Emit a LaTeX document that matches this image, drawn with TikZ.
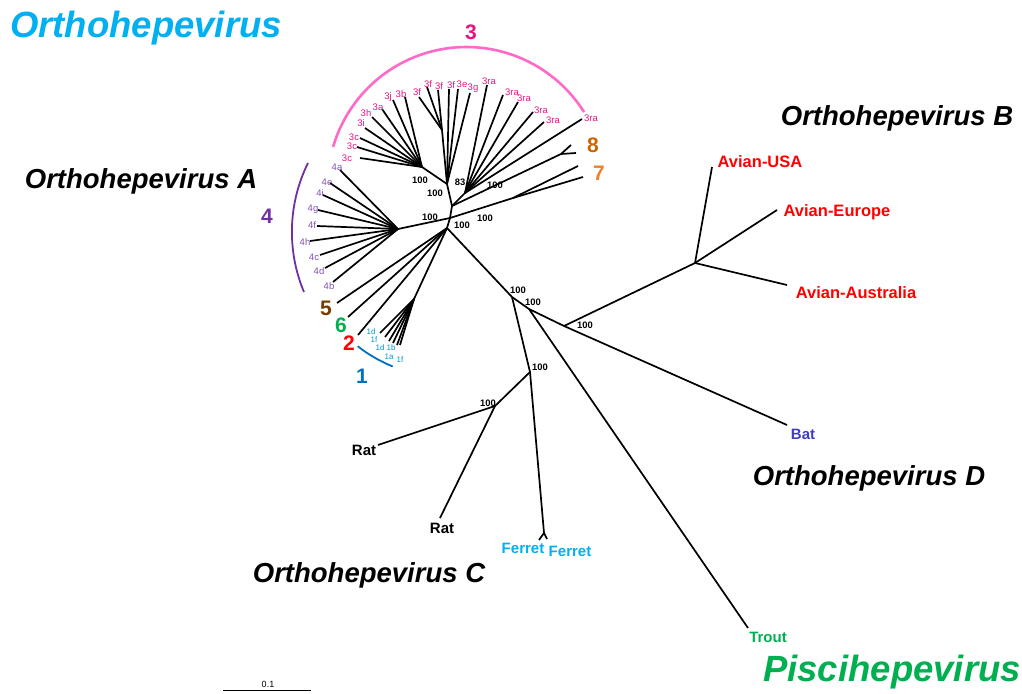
\documentclass[tikz,border=0pt]{standalone}
\usepackage{fontspec}
\setmainfont{Liberation Sans}
\definecolor{tcyan}{RGB}{0,176,240}
\definecolor{pk}{RGB}{230,20,130}
\definecolor{pkarc}{RGB}{255,105,200}
\definecolor{pu}{RGB}{112,48,160}
\definecolor{pul}{RGB}{128,80,180}
\definecolor{bl}{RGB}{0,112,192}
\definecolor{bll}{RGB}{0,150,210}
\definecolor{gr}{RGB}{0,176,80}
\definecolor{brn}{RGB}{120,60,0}
\definecolor{oreight}{RGB}{204,102,0}
\definecolor{orseven}{RGB}{240,128,40}
\definecolor{batc}{RGB}{60,60,200}
\definecolor{avred}{RGB}{255,0,0}
\begin{document}
\begin{tikzpicture}[x=1pt,y=-1pt,
  br/.style={line width=1.7pt},
  bs/.style={font=\fontsize{9.4}{10}\selectfont\bfseries, inner sep=0pt},
  lf/.style={font=\fontsize{9.5}{10}\selectfont, inner sep=0pt},
  lfs/.style={font=\fontsize{8}{9}\selectfont, inner sep=0pt},
  big/.style={font=\fontsize{27.5}{30}\selectfont\bfseries\itshape, inner sep=0pt},
  huge/.style={font=\fontsize{36.5}{40}\selectfont\bfseries\itshape, inner sep=0pt},
  gnum/.style={font=\fontsize{21}{24}\selectfont\bfseries, inner sep=0pt},
  tx/.style={font=\fontsize{15}{17}\selectfont\bfseries, inner sep=0pt},
  av/.style={font=\fontsize{16.5}{18}\selectfont\bfseries, inner sep=0pt, text=avred}]
\useasboundingbox (0,0) rectangle (1022,693);
% internal nodes
\coordinate (C0) at (450,218);
\coordinate (C1) at (452,206);
\coordinate (A3) at (447,184);
\coordinate (N3a) at (422,167);
\coordinate (N3f) at (442,130);
\coordinate (R3) at (465,193);
\coordinate (N8) at (561,154);
\coordinate (N7) at (513,198);
\coordinate (N4) at (398,229);
\coordinate (C2) at (447,228);
\coordinate (N1) at (414,299);
\coordinate (D1) at (512,297);
\coordinate (D2) at (529,309);
\coordinate (D3) at (564,326);
\coordinate (AV) at (695,263);
\coordinate (F) at (530,372);
\coordinate (RT) at (495,406);
\coordinate (FE) at (544,533);
% internal edges
\draw[br] (C0) -- (C1);
\draw[br] (C1) -- (A3);
\draw[br] (A3) -- (N3a);
\draw[br] (A3) -- (N3f);
\draw[br] (C1) -- (R3);
\draw[br] (C1) -- (N8);
\draw[br] (C0) -- (N7);
\draw[br] (C0) -- (N4);
\draw[br] (C0) -- (C2);
\draw[br] (C2) -- (N1);
\draw[br] (C2) -- (D1);
\draw[br] (D1) -- (D2);
\draw[br] (D1) -- (F);
\draw[br] (D2) -- (D3);
\draw[br] (D3) -- (AV);
\draw[br] (F) -- (RT);
\draw[br] (F) -- (FE);
% leaves
\foreach \nm/\x/\y/\pa in {
  L3ca/360/158/N3a, L3cb/357/147/N3a, L3cc/360/138/N3a, L3i/365/128/N3a,
  L3h/372/117/N3a, L3a/382/109/N3a, L3j/393/100/N3a, L3b/405/97/N3a,
  L3fa/419/97/N3f, L3fb/427/87/N3f, L3fc/438/90/N3f,
  L3fd/449/89/A3, L3e/458/89/A3, L3g/470/93/A3,
  L3ra/487/85/R3, L3rb/503/95/R3, L3rc/518/102/R3, L3rd/533/112/R3,
  L3re/544/122/R3, L3rf/582/119/R3,
  L8a/571/145/N8, L8b/576/153/N8, L7a/578/166/N7, L7b/583/177/N7,
  L4a/340/170/N4, L4e/330/183/N4, L4i/323/195/N4, L4g/318/210/N4,
  L4f/317/226/N4, L4h/310/241/N4, L4c/320/255/N4, L4d/325/268/N4, L4b/333/282/N4,
  L5/337/303/C2, L6/348/317/C2, L2/358/335/C2,
  L1a/380/333/N1, L1b/385/337/N1, L1c/389/341/N1, L1d/393/343/N1,
  L1e/397/345/N1, L1f/400/345/N1,
  LAusa/712/167/AV, LAeu/777/210/AV, LAau/787/285/AV,
  LBat/787/425/D3, LTrout/748/628/D2,
  LFea/539/540/FE, LFeb/547/539/FE,
  LRa/378/445/RT, LRb/440/518/RT} {
  \coordinate (\nm) at (\x,\y);
  \draw[br] (\pa) -- (\nm);
}
% clade arcs
\draw[pkarc, line width=2.6pt] plot[domain=196.3:327.9, samples=60] ({466.4+138.9*cos(\x)},{185.9+138.9*sin(\x)});
\draw[pu, line width=1.8pt] plot[domain=157.3:206.3, samples=40] ({447.6+155.7*cos(\x)},{231.9+155.7*sin(\x)});
\draw[bl, line width=1.8pt] plot[domain=112:128, samples=20] ({447+145*cos(\x)},{232+145*sin(\x)});
% leaf labels genotype 3
\foreach \nm/\x/\y/\t in {
  ta/347/158/3c, tb/352/146/3c, tc/354/137/3c, td/361/123/3i, te/366/113/3h,
  tf/378/107/3a, tg/388/97/3j, th/401/94/3b, ti/417/92/3f, tj/428/84/3f,
  tk/439/86/3f, tl/451/85/3f, tm/462/84/3e, tn/473/88/3g,
  to/489/81/3ra, tp/512/92/3ra, tq/524/98/3ra, tr/541/110/3ra, ts/553/120/3ra, tt/591/118/3ra} {
  \node[lf, text=pk] (\nm) at (\x,\y) {\t};
}
% leaf labels genotype 4
\foreach \nm/\x/\y/\t in {
  ua/337/167/4a, ub/327/182/4e, uc/320/193/4i, ud/313/209/4g, ue/312/225/4f,
  uf/305/242/4h, ug/314/257/4c, uh/319/271/4d, ui/329/286/4b} {
  \node[lf, text=pul] (\nm) at (\x,\y) {\t};
}
% leaf labels genotype 1
\foreach \nm/\x/\y/\t in {
  va/371/332/1d, vb/374/340/1f, vc/380/348/1d, vd/391/348/1b, ve/389/357/1a, vf/400/360/1f} {
  \node[lfs, text=bll] (\nm) at (\x,\y) {\t};
}
% bootstrap values
\foreach \nm/\x/\y/\t in {
  ba/420/180/100, bb/435/193/100, bc/460/182/83, bd/495/185/100,
  be/430/217/100, bf/462/225/100, bg/485/218/100, bh/518/290/100,
  bi/533/302/100, bj/585/325/100, bk/540/367/100, bm/488/403/100} {
  \node[bs] (\nm) at (\x,\y) {\t};
}
% genotype numbers
\node[gnum, text=pk] (g3) at (471,32) {3};
\node[gnum, text=pu] (g4) at (267,216) {4};
\node[gnum, text=brn] (g5) at (326,308) {5};
\node[gnum, text=gr] (g6) at (341,325) {6};
\node[gnum, text=avred] (g2) at (349,343) {2};
\node[gnum, text=bl] (g1) at (362,376) {1};
\node[gnum, text=oreight] (g8) at (593,145) {8};
\node[gnum, text=orseven] (g7) at (599,173) {7};
% taxa
\node[av] (tusa) at (760,162) {Avian-USA};
\node[av] (teu) at (837,212) {Avian-Europe};
\node[av] (tau) at (856,293) {Avian-Australia};
\node[tx, text=batc] (tbat) at (803,434) {Bat};
\node[tx, text=gr] (ttrout) at (768,637) {Trout};
\node[tx, text=tcyan] (tfa) at (523,548) {Ferret};
\node[tx, text=tcyan] (tfb) at (570,551) {Ferret};
\node[tx] (tra) at (364,450) {Rat};
\node[tx] (trb) at (442,528) {Rat};
% group names
\node[huge, text=tcyan] (hOrtho) at (146,28) {Orthohepevirus};
\node[big] (hA) at (141,181) {Orthohepevirus A};
\node[big] (hB) at (897,118) {Orthohepevirus B};
\node[big] (hC) at (369,575) {Orthohepevirus C};
\node[big] (hD) at (869,478) {Orthohepevirus D};
\node[huge, text=gr] (hP) at (892,672) {Piscihepevirus};
% scale bar
\coordinate (sba) at (223,690.5);
\coordinate (sbb) at (311,690.5);
\draw[line width=1.6pt] (sba) -- (sbb);
\node[font=\fontsize{9}{10}\selectfont, inner sep=0pt] (sbl) at (268,684) {0.1};
\end{tikzpicture}
\end{document}
